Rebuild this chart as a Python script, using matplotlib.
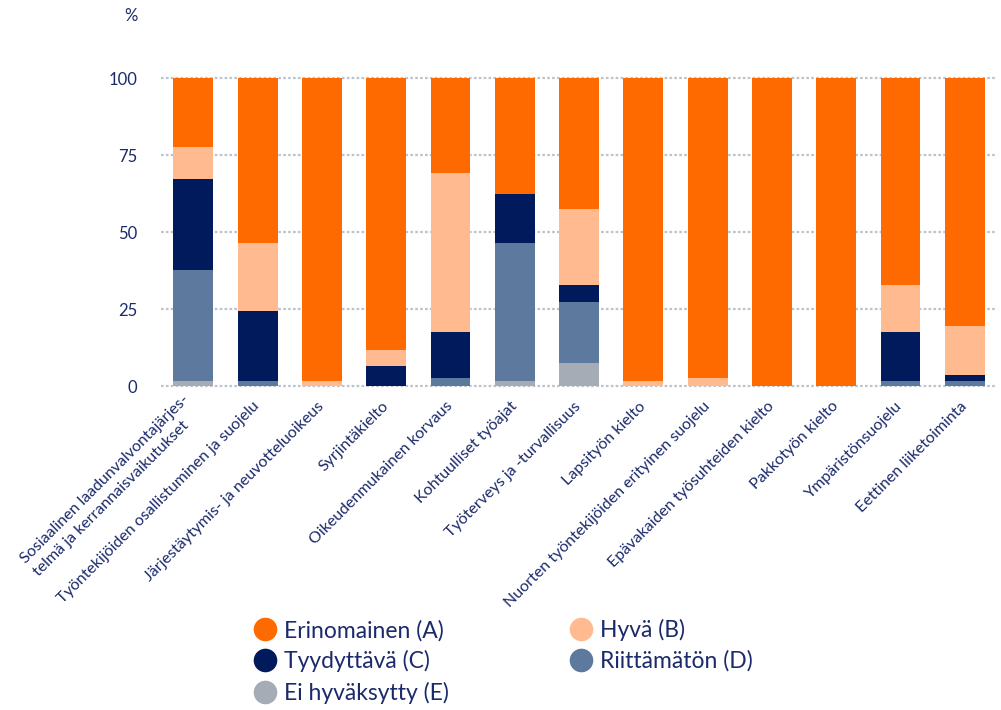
import matplotlib
matplotlib.use("Agg")
import matplotlib.pyplot as plt
from matplotlib.lines import Line2D
import numpy as np

plt.rcParams['font.family'] = ['Lato', 'DejaVu Sans']

# Data (percent shares, bottom to top: E, D, C, B, A)
categories = [
    "Sosiaalinen laadunvalvontajärjes-\ntelmä ja kerrannaisvaikutukset",
    "Työntekijöiden osallistuminen ja suojelu",
    "Järjestäytymis- ja neuvotteluoikeus",
    "Syrjintäkielto",
    "Oikeudenmukainen korvaus",
    "Kohtuulliset työajat",
    "Työterveys ja -turvallisuus",
    "Lapsityön kielto",
    "Nuorten työntekijöiden erityinen suojelu",
    "Epävakaiden työsuhteiden kielto",
    "Pakkotyön kielto",
    "Ympäristönsuojelu",
    "Eettinen liiketoiminta",
]
grade_e = [1.6, 0, 0, 0, 0, 1.6, 7.5, 0, 0, 0, 0, 0, 0]
grade_d = [36.1, 1.6, 0, 0, 2.6, 44.8, 19.8, 0, 0, 0, 0, 1.6, 1.6]
grade_c = [29.5, 22.8, 0, 6.5, 14.9, 15.9, 5.5, 0, 0, 0, 0, 15.9, 2.0]
grade_b = [10.4, 22.0, 1.6, 5.2, 51.7, 0, 24.7, 1.6, 2.6, 0, 0, 15.3, 15.9]
grade_a = [22.4, 53.6, 98.4, 88.3, 30.8, 37.7, 42.5, 98.4, 97.4, 100, 100, 67.2, 80.5]

series_labels = ["Ei hyväksytty (E)", "Riittämätön (D)", "Tyydyttävä (C)", "Hyvä (B)", "Erinomainen (A)"]
series_values = [grade_e, grade_d, grade_c, grade_b, grade_a]
series_colors = ["#a5acb5", "#5d7a9e", "#001a5c", "#ffbb8f", "#ff6a00"]
y_ticks = [0, 25, 50, 75, 100]

text_color = "#1b2a6b"

fig = plt.figure(figsize=(10.01, 7.10), dpi=100)
ax = fig.add_axes([0.161, 0.4563, 0.835, 0.4338])

x = np.arange(len(categories))
bottom = np.zeros(len(categories))
for vals, col in zip(series_values, series_colors):
    ax.bar(x, vals, bottom=bottom, width=0.62, color=col, zorder=2)
    bottom += np.array(vals)

# dotted grid lines
for t in y_ticks:
    ax.axhline(t, color="#bfc3ca", linewidth=1.6, linestyle=(0, (1.2, 1.0)), zorder=1, clip_on=False)

ax.set_xlim(-0.5, len(categories) - 0.5)
ax.set_ylim(0, 100)
ax.set_yticks(y_ticks)
ax.set_yticklabels([str(t) for t in y_ticks], fontsize=12, color=text_color)
ax.set_xticks(x)
ax.set_xticklabels(categories, rotation=45, ha="right", va="center", rotation_mode="anchor",
                   fontsize=11.5, color=text_color, multialignment="left", linespacing=1.4)
ax.tick_params(axis="y", length=0, pad=17)
ax.tick_params(axis="x", length=0, pad=13)
for s in ax.spines.values():
    s.set_visible(False)

fig.text(0.131, 0.978, "%", fontsize=12, color=text_color, ha="center", va="center")

# legend: A, C, E in first column, B, D in second
order = [4, 2, 0, 3, 1]
handles = [Line2D([], [], marker="o", linestyle="none", markersize=17,
                  markerfacecolor=series_colors[i], markeredgecolor="none") for i in order]
labels = [series_labels[i] for i in order]
leg = fig.legend(handles, labels, ncol=2, loc="upper left", bbox_to_anchor=(0.253, 0.128),
                 frameon=False, fontsize=16.5, handletextpad=0.35, columnspacing=5.25,
                 labelspacing=0.4, handlelength=1.0, borderpad=0, borderaxespad=0)
for t in leg.get_texts():
    t.set_color(text_color)

fig.savefig("out.png", dpi=100)
